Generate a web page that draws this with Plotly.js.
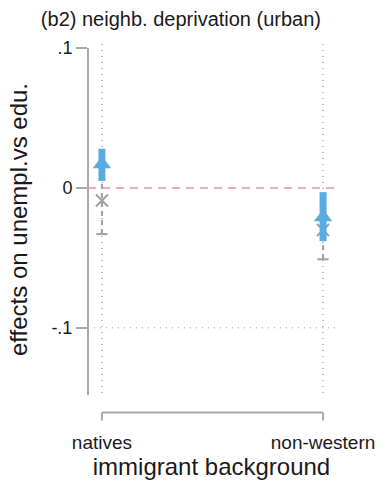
<!DOCTYPE html>
<html>
<head>
<meta charset="utf-8">
<script src="https://cdn.plot.ly/plotly-3.0.1.min.js"></script>
<style>html,body{margin:0;padding:0;background:#fff;}#chart{width:385px;height:488px;}</style>
</head>
<body>
<div id="chart"></div>
<script>
const categories = ["natives", "non-western"];
const xPos = [0, 1];
// series A (blue, triangle)
const blueEst = [0.017, -0.021];
const blueLo  = [0.005, -0.038];
const blueHi  = [0.028, -0.003];
// series B (gray, x)
const grayEst = [-0.009, -0.030];
const grayLo  = [-0.033, -0.051];
const grayHi  = [0.013, -0.008];
const yTicks = [-0.1, 0, 0.1];
const yTickText = ["-.1", "0", ".1"];

const BLUE = "rgb(88,172,226)";
const GRAY = "rgb(160,160,160)";
const AX = "rgb(170,170,170)";

const traces = [];
xPos.forEach((x, i) => {
  traces.push({x: [x, x], y: [grayLo[i], grayHi[i]], mode: "lines", line: {color: GRAY, width: 2, dash: "5px,4px"}, hoverinfo: "skip", showlegend: false});
});
traces.push({x: xPos, y: grayLo, mode: "markers", marker: {symbol: "line-ew-open", size: 8, color: GRAY, line: {color: GRAY, width: 2}}, showlegend: false, hoverinfo: "skip"});
traces.push({x: xPos, y: grayEst, mode: "markers", marker: {symbol: "x-thin-open", size: 12, color: GRAY, line: {color: GRAY, width: 2}}, showlegend: false});
xPos.forEach((x, i) => {
  traces.push({x: [x, x], y: [blueLo[i], blueHi[i]], mode: "lines", line: {color: BLUE, width: 7}, hoverinfo: "skip", showlegend: false});
});
traces.push({x: xPos, y: blueEst, mode: "markers", marker: {symbol: "triangle-up", size: 16, color: BLUE}, showlegend: false});

const layout = {
  width: 385, height: 488,
  margin: {l: 88, r: 50, t: 44, b: 93},
  paper_bgcolor: "#fff", plot_bgcolor: "#fff",
  font: {family: "Liberation Sans, Arial, sans-serif", color: "#1a1a1a"},
  title: {text: "(b2) neighb. deprivation (urban)", x: 0.47, xanchor: "center", y: 0.962, yanchor: "middle", font: {size: 20, color: "#1a1a1a"}},
  xaxis: {
    range: [-0.063, 1.054], tickvals: xPos, ticktext: categories,
    showgrid: true, gridcolor: "rgb(190,190,190)", griddash: "1px,5px", gridwidth: 1.5,
    zeroline: false, showline: false, ticks: "", ticklabelstandoff: 34,
    tickfont: {size: 19, color: "#1a1a1a"},
    title: {text: "immigrant background", font: {size: 24, color: "#1a1a1a"}, standoff: 2}
  },
  yaxis: {
    range: [-0.148, 0.1029], tickvals: yTicks, ticktext: yTickText,
    showgrid: false,
    zeroline: false, showline: false, ticks: "outside", ticklen: 11, tickcolor: AX, tickwidth: 1.5,
    tickfont: {size: 18, color: "#1a1a1a"},
    title: {text: "effects on unempl.vs edu.", font: {size: 24, color: "#1a1a1a"}, standoff: 16}
  },
  shapes: [
    {type: "line", xref: "paper", yref: "y", x0: 0, x1: 1, y0: -0.1, y1: -0.1, line: {color: "rgb(190,190,190)", width: 1.5, dash: "1px,5px"}},
    {type: "line", xref: "paper", yref: "y", x0: 0, x1: 0, y0: 0.1, y1: -0.148, line: {color: AX, width: 2}},
    {type: "line", xref: "paper", yref: "y", x0: 0, x1: 1, y0: 0, y1: 0, line: {color: "rgb(225,150,170)", width: 1.5, dash: "8px,6px"}},
    {type: "line", xref: "x", yref: "paper", x0: 0, x1: 1, y0: -0.05, y1: -0.05, line: {color: AX, width: 2}},
    {type: "line", xref: "x", yref: "paper", x0: 0, x1: 0, y0: -0.05, y1: -0.073, line: {color: AX, width: 2}},
    {type: "line", xref: "x", yref: "paper", x0: 1, x1: 1, y0: -0.05, y1: -0.073, line: {color: AX, width: 2}}
  ]
};
Plotly.newPlot("chart", traces, layout, {displayModeBar: false, staticPlot: true});
</script>
</body>
</html>
